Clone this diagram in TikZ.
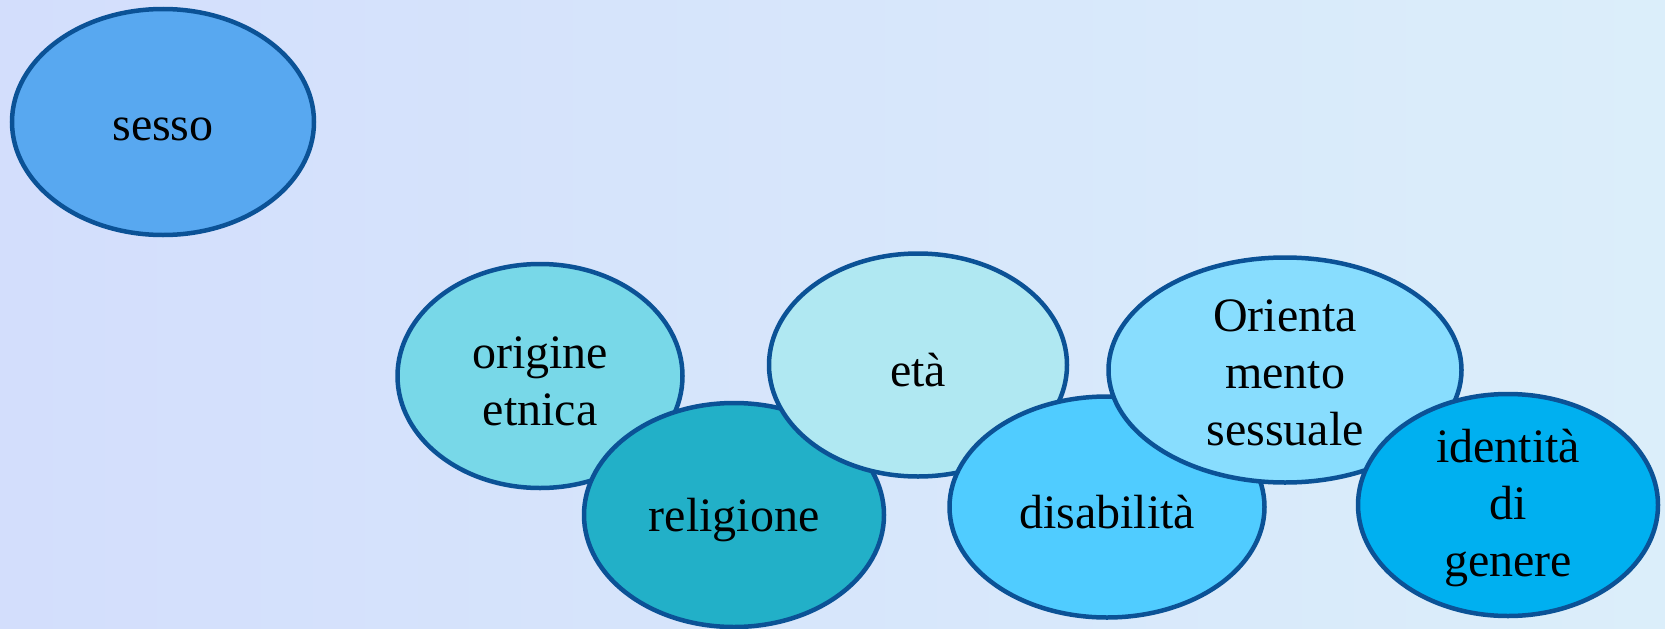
\documentclass[tikz,border=0pt]{standalone}
\usepackage{fontspec}
\setmainfont{Liberation Serif}
\usetikzlibrary{shapes.geometric}
\definecolor{bgA}{HTML}{D3DEFC}
\definecolor{bgB}{HTML}{DBEEFA}
\definecolor{edgeC}{HTML}{0B5296}
\definecolor{cSesso}{HTML}{58A8F0}
\definecolor{cOrig}{HTML}{78D8E8}
\definecolor{cRelig}{HTML}{22B0C8}
\definecolor{cEta}{HTML}{B0E8F2}
\definecolor{cDisab}{HTML}{50CCFF}
\definecolor{cOrient}{HTML}{88DDFE}
\definecolor{cIdent}{HTML}{00B0F0}
\tikzset{
  bubble/.style={ellipse, draw=edgeC, line width=4.5pt, inner sep=0pt},
  btext/.style={align=center, text=black, inner sep=0pt,
    font=\fontsize{48}{57}\selectfont}
}
\begin{document}
\begin{tikzpicture}[x=1pt,y=-1pt]
\useasboundingbox (0,0) rectangle (1665,629);
\shade[left color=bgA, right color=bgB] (0,0) rectangle (1665,629);
\node[bubble, fill=cSesso, minimum width=302pt, minimum height=226pt] (sesso) at (163,122) {};
\node[btext] (sessoT) at ([yshift=-7pt]sesso.center) {sesso};
\node[bubble, fill=cOrig, minimum width=285pt, minimum height=224pt] (orig) at (540,376) {};
\node[btext] (origT) at ([yshift=-5pt]orig.center) {origine\\etnica};
\node[bubble, fill=cRelig, minimum width=300pt, minimum height=224pt] (relig) at (734,515) {};
\node[btext] (religT) at ([yshift=-5pt]relig.center) {religione};
\node[bubble, fill=cEta, minimum width=298pt, minimum height=223pt] (eta) at (918,365) {};
\node[btext] (etaT) at ([yshift=-5pt]eta.center) {età};
\node[bubble, fill=cDisab, minimum width=315pt, minimum height=221pt] (disab) at (1107,507) {};
\node[btext] (disabT) at ([yshift=-5pt]disab.center) {disabilità};
\node[bubble, fill=cOrient, minimum width=353pt, minimum height=225pt] (orient) at (1285,370) {};
\node[btext] (orientT) at ([yshift=-3pt]orient.center) {Orienta\\mento\\sessuale};
\node[bubble, fill=cIdent, minimum width=300pt, minimum height=222pt] (ident) at (1508,505) {};
\node[btext] (identT) at ([yshift=-3pt]ident.center) {identità\\di\\genere};
\end{tikzpicture}
\end{document}
